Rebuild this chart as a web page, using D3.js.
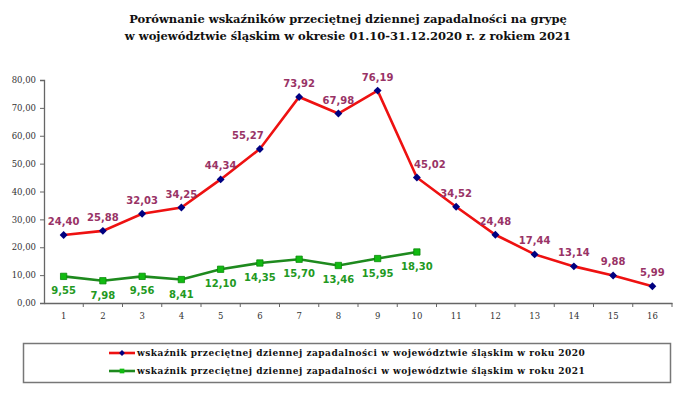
<!DOCTYPE html>
<html>
<head>
<meta charset="utf-8">
<script src="https://cdn.jsdelivr.net/npm/d3@7/dist/d3.min.js"></script>
<style>
  body { margin: 0; background: #fff; }
  svg { display: block; }
</style>
</head>
<body>
<div id="chart"></div>
<script>
var weeks = ["1", "2", "3", "4", "5", "6", "7", "8", "9", "10", "11", "12", "13", "14", "15", "16"];
var values2020 = [24.40, 25.88, 32.03, 34.25, 44.34, 55.27, 73.92, 67.98, 76.19, 45.02, 34.52, 24.48, 17.44, 13.14, 9.88, 5.99];
var values2021 = [9.55, 7.98, 9.56, 8.41, 12.10, 14.35, 15.70, 13.46, 15.95, 18.30];
var yTicks = [0, 10, 20, 30, 40, 50, 60, 70, 80];
var titleLines = [
  "Porównanie wskaźników przeciętnej dziennej zapadalności na grypę",
  "w  województwie śląskim w okresie 01.10-31.12.2020 r. z rokiem 2021"
];
var legendLabels = [
  "wskaźnik przeciętnej dziennej zapadalności w województwie śląskim w roku 2020",
  "wskaźnik przeciętnej dziennej zapadalności w województwie śląskim w roku 2021"
];

var width = 680,
    height = 396,
    margin = {top: 80, right: 8, bottom: 93, left: 44};

var fmt = function(v) { return v.toFixed(2).replace(".", ","); };

var svg = d3.select("#chart").append("svg")
    .attr("width", width)
    .attr("height", height);

var x = d3.scaleBand()
    .domain(weeks)
    .range([margin.left, width - margin.right]);

var y = d3.scaleLinear()
    .domain([0, 80])
    .range([height - margin.bottom, margin.top]);

var cx = function(i) { return x(weeks[i]) + x.bandwidth() / 2; };

// title
svg.append("g").selectAll("text")
    .data(titleLines)
  .enter().append("text")
    .attr("x", 348)
    .attr("y", function(d, i) { return 23 + i * 17; })
    .attr("text-anchor", "middle")
    .style("font-family", "'DejaVu Serif', serif")
    .style("font-weight", "bold")
    .style("font-size", "11.5px")
    .style("fill", "#111")
    .text(function(d) { return d; });

// y axis
var yAxis = svg.append("g")
    .attr("transform", "translate(" + margin.left + ",0)")
    .call(d3.axisLeft(y).tickValues(yTicks).tickFormat(fmt).tickSize(4).tickPadding(4));

// x axis, ticks on the band edges
var xAxis = svg.append("g")
    .attr("transform", "translate(0," + y(0) + ")")
    .call(d3.axisBottom(x).tickSize(0).tickPadding(10));

xAxis.selectAll(".edge")
    .data(weeks)
  .enter().append("line")
    .attr("class", "edge")
    .attr("x1", function(d) { return x(d) + x.bandwidth(); })
    .attr("x2", function(d) { return x(d) + x.bandwidth(); })
    .attr("y1", 0)
    .attr("y2", 4)
    .attr("stroke", "#666");

[yAxis, xAxis].forEach(function(ax) {
  ax.select(".domain").attr("stroke", "#666").attr("stroke-width", 1.3);
  ax.selectAll(".tick line").attr("stroke", "#666");
  ax.selectAll("text")
      .style("font-family", "'DejaVu Serif', serif")
      .style("font-size", "8.5px")
      .style("fill", "#333");
});

// lines
var line = d3.line()
    .x(function(d, i) { return cx(i); })
    .y(function(d) { return y(d); });

svg.append("path")
    .datum(values2020)
    .attr("fill", "none")
    .attr("stroke", "#ee1111")
    .attr("stroke-width", 2.6)
    .attr("d", line);

svg.append("path")
    .datum(values2021)
    .attr("fill", "none")
    .attr("stroke", "#1e8a1e")
    .attr("stroke-width", 2.6)
    .attr("d", line);

var diamond = d3.symbol().type(d3.symbolDiamond2).size(40);
var square = d3.symbol().type(d3.symbolSquare).size(40);

svg.append("g").selectAll("path")
    .data(values2020)
  .enter().append("path")
    .attr("transform", function(d, i) { return "translate(" + cx(i) + "," + y(d) + ")"; })
    .attr("d", diamond)
    .attr("fill", "#000080");

svg.append("g").selectAll("path")
    .data(values2021)
  .enter().append("path")
    .attr("transform", function(d, i) { return "translate(" + cx(i) + "," + y(d) + ")"; })
    .attr("d", square)
    .attr("fill", "#11bb11")
    .attr("stroke", "#0a8a0a")
    .attr("stroke-width", 0.8);

// value labels, nudged sideways off steep segments
var labelFont = "'DejaVu Sans', Verdana, sans-serif";

function nudge(d, i, arr) {
  var prev = i > 0 ? y(arr[i - 1]) - y(d) : 0,
      next = i < arr.length - 1 ? y(d) - y(arr[i + 1]) : 0;
  if (prev < -60) return 13;
  if (next > 45) return -12;
  return 0;
}

svg.append("g").selectAll("text")
    .data(values2020)
  .enter().append("text")
    .attr("x", function(d, i) { return cx(i) + nudge(d, i, values2020); })
    .attr("y", function(d) { return y(d) - 10; })
    .attr("text-anchor", "middle")
    .style("font-family", labelFont)
    .style("font-weight", "bold")
    .style("font-size", "10px")
    .style("fill", "#993366")
    .text(fmt);

svg.append("g").selectAll("text")
    .data(values2021)
  .enter().append("text")
    .attr("x", function(d, i) { return cx(i); })
    .attr("y", function(d) { return y(d) + 18; })
    .attr("text-anchor", "middle")
    .style("font-family", labelFont)
    .style("font-weight", "bold")
    .style("font-size", "10px")
    .style("fill", "#229922")
    .text(fmt);

// legend
var legend = svg.append("g");

legend.append("rect")
    .attr("x", 23.5)
    .attr("y", 343.5)
    .attr("width", 647)
    .attr("height", 39)
    .attr("fill", "none")
    .attr("stroke", "#777")
    .attr("stroke-width", 1.5);

var items = legend.selectAll(".item")
    .data(legendLabels)
  .enter().append("g")
    .attr("class", "item")
    .attr("transform", function(d, i) { return "translate(109," + (353 + i * 18) + ")"; });

items.append("line")
    .attr("x1", 0)
    .attr("x2", 26)
    .attr("stroke", function(d, i) { return i === 0 ? "#ee1111" : "#1e8a1e"; })
    .attr("stroke-width", 2.6);

items.append("path")
    .attr("transform", "translate(13,0)")
    .attr("d", function(d, i) { return i === 0 ? d3.symbol().type(d3.symbolDiamond2).size(22)() : d3.symbol().type(d3.symbolSquare).size(22)(); })
    .attr("fill", function(d, i) { return i === 0 ? "#000080" : "#11bb11"; });

items.append("text")
    .attr("x", 28)
    .attr("dy", "0.35em")
    .style("font-family", "'DejaVu Serif', serif")
    .style("font-weight", "bold")
    .style("font-size", "9px")
    .style("letter-spacing", "0.5px")
    .style("fill", "#111")
    .text(function(d) { return d; });
</script>
</body>
</html>
